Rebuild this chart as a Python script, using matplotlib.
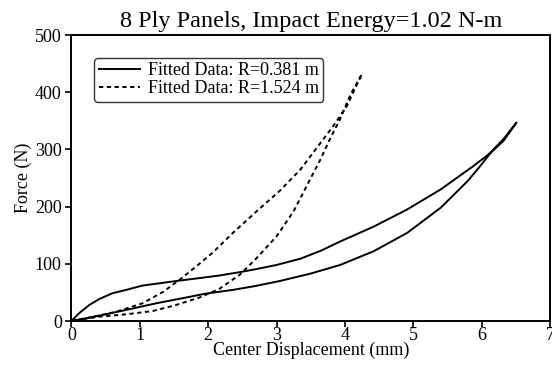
import numpy as np
import matplotlib.pyplot as plt

plt.rcParams['font.family'] = ['Liberation Serif', 'DejaVu Serif']

# R = 0.381 m : loading branch then unloading branch (mm, N)
x_small_load = [0.0, 0.11, 0.26, 0.41, 0.60, 0.80, 1.04, 1.29, 1.58, 1.87,
                2.16, 2.46, 2.70, 3.00, 3.35, 3.65, 3.93, 4.42, 4.91, 5.40,
                5.88, 6.13, 6.32, 6.51]
f_small_load = [0, 13.5, 28, 38.6, 48.6, 54.4, 62, 66, 70.7, 75,
                79.5, 85.4, 90.7, 98, 109, 123, 139, 165, 195, 230,
                271, 294, 315, 347]
x_small_unload = [6.51, 6.32, 6.15, 5.98, 5.79, 5.40, 4.91, 4.42, 3.93, 3.50,
                  3.05, 2.70, 2.36, 1.97, 1.63, 1.24, 0.90, 0.50, 0.21, 0.0]
f_small_unload = [347, 318, 297, 271, 244, 198, 154, 122, 98, 83,
                  70, 61.4, 54.4, 48, 40, 31, 22, 11.7, 4.7, 0]

# R = 1.524 m
x_large_load = [0.0, 0.26, 0.65, 1.04, 1.34, 1.58, 1.82, 2.07, 2.37, 2.71,
                3.05, 3.35, 3.59, 3.83, 4.03, 4.13, 4.25]
f_large_load = [0, 6, 16, 31, 51, 72, 95, 120, 155, 192,
                228, 265, 303, 341, 376, 402, 432]
x_large_unload = [4.25, 4.10, 4.03, 3.93, 3.78, 3.64, 3.44, 3.25, 3.00, 2.70,
                  2.46, 2.16, 1.87, 1.53, 1.19, 0.80, 0.41, 0.0]
f_large_unload = [432, 400, 382, 353, 318, 282, 236, 192, 148, 109,
                  80.7, 56, 41, 28, 17.5, 11.7, 7.6, 0]

fig = plt.figure(figsize=(5.52, 3.67), dpi=100)
ax = fig.add_axes([0.1295, 0.1253, 0.8669, 0.7793])

ax.plot(x_small_load + x_small_unload, f_small_load + f_small_unload,
        color='black', lw=1.4, label='Fitted Data: R=0.381 m')
ax.plot(x_large_load + x_large_unload, f_large_load + f_large_unload,
        color='black', lw=1.4, linestyle=(0, (2.2, 1.8)),
        label='Fitted Data: R=1.524 m')

ax.set_xlim(0, 7)
ax.set_ylim(0, 500)
ax.set_xticks(range(0, 8))
ax.set_yticks(range(0, 501, 100))
ax.tick_params(direction='out', length=4, width=1.2, labelsize=13)
ax.tick_params(axis='x', pad=0)
ax.tick_params(axis='y', pad=3)
for s in ax.spines.values():
    s.set_linewidth(1.4)

ax.set_title('8 Ply Panels, Impact Energy=1.02 N-m', fontsize=17.5, pad=6)
ax.set_xlabel('Center Displacement (mm)', fontsize=13, labelpad=-1)
ax.set_ylabel('Force (N)', fontsize=13, labelpad=2)

leg = ax.legend(loc='upper left', bbox_to_anchor=(0.048, 0.92), fontsize=13,
                handlelength=2.3, handletextpad=0.4, borderpad=0.25,
                labelspacing=0.05, borderaxespad=0, frameon=True, fancybox=True)
leg.get_frame().set_edgecolor('black')
leg.get_frame().set_linewidth(1.0)

fig.savefig('out.png', dpi=100)
